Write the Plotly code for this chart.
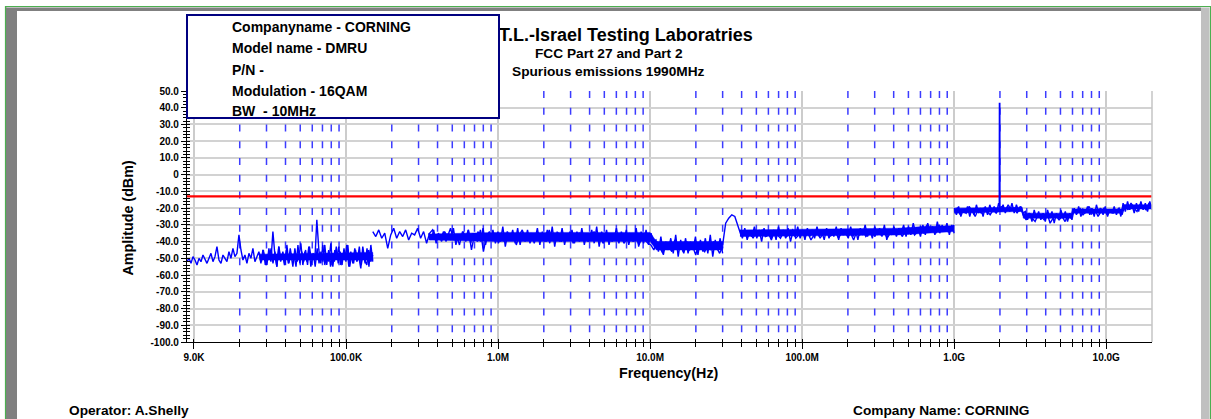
import numpy as np
import plotly.graph_objects as go

# ---------------- data ----------------
# Sweep 1: 9 kHz - 150 kHz
seg1_start, seg1_stop = 9e3, 1.5e5
seg1_dbm = [-52, -50, -53, -49, -51, -54, -50, -52, -48, -51,
            -53, -50, -47, -52, -49, -43, -51, -53, -48, -50,
            -52, -46, -50, -44, -49, -47, -36, -45, -51, -48,
            -53, -47, -50, -44, -52, -49, -46, -53, -45, -50,
            -54, -44, -52, -34, -48, -55, -43, -51, -46, -54,
            -42, -53, -47, -55, -44, -52, -49, -41, -54, -46,
            -52, -43, -55, -48, -51, -27, -45, -53, -42, -54,
            -47, -52, -41, -55, -45, -50, -43, -54, -48, -51,
            -42, -55, -46, -53, -44, -52, -49, -56, -43, -51,
            -54, -45, -52, -48]
# Sweep 2: 150 kHz - 30 MHz
seg2_start, seg2_stop = 1.5e5, 3e7
seg2_dbm = [-34, -37, -33, -38, -35, -44, -36, -32, -38, -34,
            -37, -33, -39, -35, -36, -32, -38, -34, -41, -35,
            -33, -38, -35, -40, -34, -37, -32, -39, -36, -42,
            -34, -38, -33, -45, -36, -40, -33, -46, -37, -34,
            -39, -35, -41,
            -36, -40, -34, -38, -35, -42, -36, -33, -39, -37,
            -35, -41, -34, -38, -36, -40, -33, -39, -37, -35,
            -40, -36, -38, -34, -41, -37, -35, -39, -36, -40,
            -37, -34, -39, -36, -41, -38, -35, -40, -37, -39,
            -36, -41, -38, -35, -40, -37, -42, -38, -39, -41,
            -42, -45, -40, -44, -47, -41, -43, -46, -39, -44,
            -42, -47, -40, -45, -43, -48, -41, -44, -46, -42,
            -45, -40, -44, -47, -43]
# Sweep 3: 30 MHz - 1 GHz
seg3_start, seg3_stop = 3e7, 1e9
seg3_dbm = [-42, -29, -26, -24, -25, -31, -36, -34, -37, -35,
            -38, -34, -36, -33, -37, -35, -39, -34, -36, -38,
            -34, -37, -35, -33, -38, -36, -34, -37, -35, -39,
            -36, -34, -38, -35, -33, -37, -36, -34, -38, -35,
            -33, -37, -35, -39, -34, -36, -33, -37, -35, -34,
            -37, -33, -36, -34, -38, -35, -33, -36, -34, -37,
            -33, -35, -32, -36, -34, -31, -35, -30, -34, -32,
            -35, -30, -33, -31, -34, -32, -30]
# Sweep 4: 1 GHz - 20 GHz
seg4_start, seg4_stop = 1e9, 2e10
seg4_dbm = [-22, -20, -24, -21, -23, -19, -22, -25, -21, -23,
            -20, -22, -24, -21, -23, -20,
            -19, -22, -18, -21, -20, -23, -19,
            -24, -27, -23, -26, -28, -24, -25, -27, -23, -29, -26, -24, -27, -25, -28, -24, -26,
            -21, -23, -20, -24, -22, -19, -23, -21, -25, -22, -20, -24, -21, -23, -22, -20, -24,
            -18, -21, -17, -20, -22, -18, -19, -21, -17, -20]
# Carrier at 1990 MHz
carrier_freq = [1.985e9, 1.99e9, 1.995e9]
carrier_dbm = [-21, 43, -21]

# Dense noise (max / min detector pairs on the sweep grid)
band1_start, band1_stop = 2.7e4, 1.5e5
band1_hi = [-47, -45, -48, -44, -46, -43, -47, -45, -44, -48,
            -42, -46, -45, -43, -47, -44, -46, -42, -45, -47,
            -43, -46, -44, -42, -47, -45, -43, -46, -44, -42]
band1_lo = [-52, -54, -51, -53, -55, -52, -54, -53, -51, -55,
            -53, -52, -54, -51, -55, -53, -52, -54, -55, -52,
            -53, -54, -52, -55, -53, -51, -54, -53, -55, -52]
band2_start, band2_stop = 3.5e5, 3e7
band2_hi = [-35, -33, -36, -34, -35, -32, -36, -34, -33, -35,
            -34, -32, -35, -33, -34, -31, -35, -33, -32, -34,
            -33, -35, -32, -34, -33, -31, -34, -32, -35, -33,
            -34, -32, -35, -33, -31, -34, -33, -35, -32, -34,
            -33, -35, -32, -34, -33, -35,
            -39, -37, -40, -38, -36, -39, -38, -40, -37, -39, -38, -36, -39, -38]
band2_lo = [-39, -41, -38, -40, -39, -42, -38, -40, -41, -39,
            -40, -42, -39, -41, -40, -43, -39, -41, -42, -40,
            -41, -39, -42, -40, -41, -43, -40, -42, -39, -41,
            -40, -42, -39, -41, -43, -40, -42, -39, -41, -40,
            -42, -40, -43, -41, -42, -40,
            -46, -48, -45, -47, -49, -46, -47, -45, -48, -46, -47, -49, -45, -47]
band3_start, band3_stop = 3.9e7, 1e9
band3_hi = [-33, -32, -34, -31, -33, -32, -34, -33, -31, -33,
            -32, -34, -31, -33, -32, -33, -31, -34, -32, -33,
            -31, -32, -34, -31, -33, -32, -30, -33, -31, -32,
            -30, -33, -31, -32, -30, -31, -29, -32, -30, -29,
            -31, -28, -30, -29, -30]
band3_lo = [-38, -39, -37, -38, -40, -37, -38, -39, -37, -38,
            -40, -37, -38, -39, -37, -38, -37, -39, -38, -37,
            -39, -36, -38, -37, -39, -36, -37, -38, -36, -37,
            -39, -36, -37, -35, -37, -36, -35, -37, -36, -34,
            -36, -35, -34, -36, -35]
band4_start, band4_stop = 1e9, 2e10
band4_hi = [-20, -19, -21, -19, -20, -18, -20, -19, -18, -19, -17, -18, -19, -17, -18, -19,
            -22, -23, -21, -22, -23, -21, -22, -23, -21, -22, -23,
            -20, -19, -21, -19, -20, -18, -20, -19, -21, -19, -20,
            -17, -16, -18, -17, -16, -17, -16]
band4_lo = [-24, -25, -23, -25, -24, -23, -25, -24, -22, -23, -22, -23, -22, -23, -22, -23,
            -27, -28, -26, -27, -28, -26, -29, -27, -26, -28, -27,
            -24, -25, -23, -24, -25, -23, -24, -25, -23, -24, -25,
            -22, -21, -23, -22, -21, -22, -21]

# Solid cores of the noise bands (frequency, lower, upper)
core1_f = [2.7e4, 1.5e5]
core1_lo = [-51, -51]
core1_hi = [-47.5, -46.5]
core2_f = [3.5e5, 1e6, 1e7, 1.1e7, 3e7]
core2_lo = [-39, -40, -40, -45, -45]
core2_hi = [-35.5, -34.5, -34.5, -40, -40]
core3_f = [3.9e7, 4.3e8, 6.3e8, 1e9]
core3_lo = [-37, -36, -35, -34]
core3_hi = [-33, -32, -31, -30.5]
core4_f = [1e9, 2.8e9, 2.85e9, 5.9e9, 6e9, 1.27e10, 1.3e10, 2e10]
core4_lo = [-23, -22, -26, -26, -23, -23, -20.5, -20.5]
core4_hi = [-20, -19.5, -23, -23, -20.5, -20.5, -18, -18]

limit_dbm = -13
limit_freq = [9e3, 2e10]

x_tickvals = [1e4, 1e5, 1e6, 1e7, 1e8, 1e9, 1e10]
x_ticktext = ["9.0K", "100.0K", "1.0M", "10.0M", "100.0M", "1.0G", "10.0G"]
y_tickvals = [50, 40, 30, 20, 10, 0, -10, -20, -30, -40, -50, -60, -70, -80, -90, -100]
y_ticktext = ["50.0", "40.0", "30.0", "20.0", "10.0", "0", "-10.0", "-20.0", "-30.0",
              "-40.0", "-50.0", "-60.0", "-70.0", "-80.0", "-90.0", "-100.0"]
minor_mult = [2, 3, 4, 5, 6, 7, 8, 9]
decades = [1e4, 1e5, 1e6, 1e7, 1e8, 1e9]

info_lines = ["Companyname - CORNING", "Model name - DMRU", "P/N -",
              "Modulation - 16QAM", "BW  - 10MHz"]
title_text = "I.T.L.-Israel Testing Laboratries"
subtitle1 = "FCC Part 27 and Part 2"
subtitle2 = "Spurious emissions 1990MHz"

# ---------------- figure ----------------
W, H = 1211, 419
L, R, T, B = 187, 1152, 91, 342
def px2x(px):
    return (px - L) / (R - L)
def px2y(py):
    return (B - py) / (B - T)

BLUE = "#0000ff"
FONT = "Arial, Liberation Sans, sans-serif"
fig = go.Figure()

minor_vals = [m * d for d in decades for m in minor_mult]

# dashed blue minor grid lines
dx, dy = [], []
for f in minor_vals:
    dx += [f, f, None]
    dy += [50, -100, None]
fig.add_trace(go.Scatter(x=dx, y=dy, mode="lines", hoverinfo="skip", showlegend=False,
                         line=dict(color="rgb(60,60,255)", width=1.5, dash="7px,9.73px")))

# limit line
fig.add_trace(go.Scatter(x=limit_freq, y=[limit_dbm, limit_dbm], mode="lines",
                         showlegend=False, line=dict(color="#ff0000", width=2.2)))

# solid cores
for cf, clo, chi in [(core1_f, core1_lo, core1_hi), (core2_f, core2_lo, core2_hi),
                     (core3_f, core3_lo, core3_hi), (core4_f, core4_lo, core4_hi)]:
    fig.add_trace(go.Scatter(x=cf + cf[::-1], y=chi + clo[::-1], mode="lines",
                             fill="toself", fillcolor=BLUE, line=dict(width=0.5, color=BLUE),
                             hoverinfo="skip", showlegend=False))

# dense noise: the trace alternates between its max and min readings
for bs, be, bhi, blo in [(band1_start, band1_stop, band1_hi, band1_lo),
                         (band2_start, band2_stop, band2_hi, band2_lo),
                         (band3_start, band3_stop, band3_hi, band3_lo),
                         (band4_start, band4_stop, band4_hi, band4_lo)]:
    yy = []
    for h, l in zip(bhi, blo):
        yy += [h, l]
    bf = np.logspace(np.log10(bs), np.log10(be), len(yy))
    fig.add_trace(go.Scatter(x=bf, y=yy, mode="lines", line=dict(width=1.4, color=BLUE),
                             hoverinfo="skip", showlegend=False))

# sweeps
for start, stop, vals in [(seg1_start, seg1_stop, seg1_dbm), (seg2_start, seg2_stop, seg2_dbm),
                          (seg3_start, seg3_stop, seg3_dbm), (seg4_start, seg4_stop, seg4_dbm)]:
    freqs = np.logspace(np.log10(start), np.log10(stop), len(vals))
    fig.add_trace(go.Scatter(x=freqs, y=vals, mode="lines", showlegend=False,
                             line=dict(color=BLUE, width=1.4)))
fig.add_trace(go.Scatter(x=carrier_freq, y=carrier_dbm, mode="lines", showlegend=False,
                         line=dict(color=BLUE, width=1.8)))

# dummy trace to activate overlay axes (inner half of crossing ticks)
fig.add_trace(go.Scatter(x=[1e5], y=[0], xaxis="x2", yaxis="y2", mode="markers",
                         marker=dict(size=1, opacity=0), hoverinfo="skip", showlegend=False))

xr = [np.log10(9e3), np.log10(2e10)]
yr = [-100, 50]
tickfont = dict(family=FONT, size=10, color="black", weight="bold")

fig.update_layout(
    width=W, height=H, margin=dict(l=L, r=W - R, t=T, b=H - B, pad=0),
    paper_bgcolor="white", plot_bgcolor="white",
    xaxis=dict(type="log", range=xr, tickmode="array", tickvals=x_tickvals, ticktext=x_ticktext,
               ticks="outside", ticklen=6, tickwidth=1.3, tickcolor="black",
               showline=True, linecolor="black", linewidth=1.3,
               showgrid=True, gridcolor="#cccccc", gridwidth=1.5, zeroline=False,
               tickfont=tickfont,
               minor=dict(tickmode="array", tickvals=minor_vals, ticks="outside", ticklen=4,
                          tickwidth=1.2, tickcolor="black", showgrid=False)),
    yaxis=dict(range=yr, tickmode="array", tickvals=y_tickvals, ticktext=y_ticktext,
               ticks="outside", ticklen=5, tickwidth=1.3, tickcolor="black",
               showline=True, linecolor="black", linewidth=1.3,
               showgrid=True, gridcolor="#d2d2d2", gridwidth=1.5, zeroline=False,
               tickfont=tickfont,
               minor=dict(dtick=2, ticks="outside", ticklen=3, tickwidth=1,
                          tickcolor="black", showgrid=False)),
    xaxis2=dict(type="log", range=xr, overlaying="x", anchor="y2", tickmode="array",
                tickvals=x_tickvals, ticks="inside", ticklen=3, tickwidth=1.3, tickcolor="black",
                showticklabels=False, showgrid=False, showline=False, zeroline=False,
                minor=dict(tickmode="array", tickvals=minor_vals, ticks="inside", ticklen=3,
                           tickwidth=1.2, tickcolor="black", showgrid=False)),
    yaxis2=dict(range=yr, overlaying="y", anchor="x2", side="left", tickmode="array",
                tickvals=y_tickvals, ticks="inside", ticklen=3, tickwidth=1.3, tickcolor="black",
                showticklabels=False, showgrid=False, showline=False, zeroline=False,
                minor=dict(dtick=2, ticks="inside", ticklen=3, tickwidth=1,
                           tickcolor="black", showgrid=False)),
)

shapes = []
# right border of plot area
shapes.append(dict(type="line", xref="paper", yref="paper", x0=1, x1=1, y0=0, y1=1,
                   line=dict(color="#c4c4c4", width=1.5)))
# window frame
shapes.append(dict(type="rect", xref="paper", yref="paper", x0=px2x(6), x1=px2x(1201),
                   y0=px2y(7.5), y1=px2y(11), fillcolor="#808080", line=dict(width=0)))
shapes.append(dict(type="path", xref="paper", yref="paper",
                   path=f"M {px2x(6)},{px2y(7.5)} L {px2x(17)},{px2y(11)} L {px2x(17)},{px2y(425)} "
                        f"L {px2x(6)},{px2y(425)} Z",
                   fillcolor="#808080", line=dict(width=0)))
shapes.append(dict(type="rect", xref="paper", yref="paper", x0=px2x(1201), x1=px2x(1209.5),
                   y0=px2y(7.5), y1=px2y(425), fillcolor="#c0c0c0", line=dict(width=0)))
shapes.append(dict(type="path", xref="paper", yref="paper",
                   path=f"M {px2x(5.5)},{px2y(425)} L {px2x(5.5)},{px2y(6.5)} "
                        f"L {px2x(1210.5)},{px2y(6.5)} L {px2x(1210.5)},{px2y(425)}",
                   line=dict(color="#4caf50", width=1.2)))
fig.update_layout(shapes=shapes)

ann = []
def text_ann(txt, px, py, size, xanchor="center", yanchor="middle", angle=0):
    return dict(text=txt, xref="paper", yref="paper", x=px2x(px), y=px2y(py),
                xanchor=xanchor, yanchor=yanchor, showarrow=False, textangle=angle,
                font=dict(family=FONT, size=size, color="black", weight="bold"))

ann.append(text_ann(title_text, 755, 35.5, 18, xanchor="right"))
ann.append(text_ann(subtitle1, 609, 53.5, 13.7))
ann.append(text_ann(subtitle2, 608.5, 71.5, 13.7))
# info box
ann.append(dict(text=" ", xref="paper", yref="paper", x=px2x(343), y=px2y(66.5),
                xanchor="center", yanchor="middle", showarrow=False,
                width=310, height=101, bgcolor="white", bordercolor="#000080",
                borderwidth=2, borderpad=0))
for line_txt, yy in zip(info_lines, [27, 48, 69.5, 90.5, 110.5]):
    ann.append(text_ann(line_txt, 230, yy, 14, xanchor="left"))
ann.append(text_ann("Amplitude (dBm)", 127.5, 218, 14.3, angle=-90))
ann.append(text_ann("Frequency(Hz)", 669, 372.5, 14.3))
ann.append(text_ann("Operator: A.Shelly", 67, 410.5, 13.7, xanchor="left"))
ann.append(text_ann("Company Name: CORNING", 851, 410.5, 13.7, xanchor="left"))
fig.update_layout(annotations=ann)

fig.write_html("out.html", config={"displayModeBar": False},
               post_script="document.body.style.margin='0';document.body.style.padding='0';"
                           "document.body.style.overflow='hidden';")
